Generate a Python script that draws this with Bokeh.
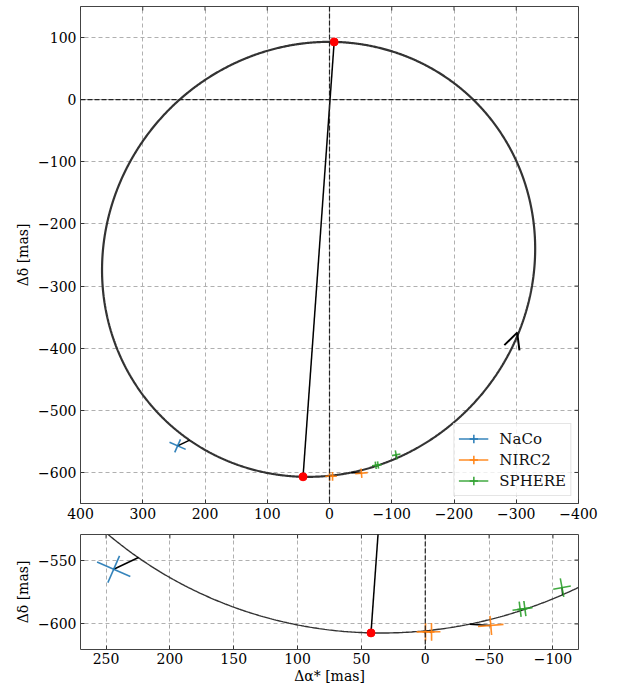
import numpy as np
from bokeh.plotting import figure
from bokeh.layouts import column
from bokeh.models import (Range1d, Span, Legend, LegendItem, Arrow, OpenHead,
                          SingleIntervalTicker, CustomJSTickFormatter, ColumnDataSource)
from bokeh.embed import file_html
from bokeh.resources import INLINE

# ---------------- data ----------------
# projected orbit: centre and two conjugate half-diameters [mas]
orbit_center_ra, orbit_center_dec = 17.5, -257.0
orbit_u_ra, orbit_u_dec = -25.0, 350.0      # towards periastron
orbit_v_ra, orbit_v_dec = 347.0, 8.0

# direction-of-motion arrow (tail, tip) [mas]
arrow_tail_ra, arrow_tail_dec = -298.6, -383.3
arrow_tip_ra, arrow_tip_dec = -301.5, -375.0

instruments = ["NaCo", "NIRC2", "SPHERE"]

naco_ra = [244.0]
naco_dec = [-557.2]
naco_err_sep = [11.4]
naco_err_pa = [14.2]
naco_model_ra = [224.6]
naco_model_dec = [-548.0]

nirc2_ra = [-0.2, -4.9, -51.3]
nirc2_dec = [-606.2, -606.2, -601.2]
nirc2_err_sep = [7.0, 7.0, 7.5]
nirc2_err_pa = [7.0, 7.0, 10.0]
nirc2_model_ra = [0.8, -3.5, -34.8]
nirc2_model_dec = [-607.0, -606.8, -600.2]

sphere_ra = [-74.3, -78.0, -107.1]
sphere_dec = [-588.5, -588.0, -571.6]
sphere_err_sep = [6.0, 6.0, 7.4]
sphere_err_pa = [6.0, 6.0, 7.0]
sphere_model_ra = [-75.5, -77.5, -107.6]
sphere_model_dec = [-589.5, -588.8, -577.5]

# axis ticks
top_xticks = [400, 300, 200, 100, 0, -100, -200, -300, -400]
top_yticks = [100, 0, -100, -200, -300, -400, -500, -600]
bot_xticks = [250, 200, 150, 100, 50, 0, -50, -100]
bot_yticks = [-550, -600]

colors = ["#1f77b4", "#ff7f0e", "#2ca02c"]

FONT = "DejaVu Serif"

# ---------------- derived geometry ----------------
E = np.linspace(0, 2 * np.pi, 1441)
orbit_x = orbit_center_ra + orbit_u_ra * np.cos(E) + orbit_v_ra * np.sin(E)
orbit_y = orbit_center_dec + orbit_u_dec * np.cos(E) + orbit_v_dec * np.sin(E)
apsis_x = [orbit_center_ra + orbit_u_ra, orbit_center_ra - orbit_u_ra]
apsis_y = [orbit_center_dec + orbit_u_dec, orbit_center_dec - orbit_u_dec]


def cross(ra, dec, esep, epa):
    ra = np.asarray(ra, float); dec = np.asarray(dec, float)
    esep = np.asarray(esep, float); epa = np.asarray(epa, float)
    r = np.hypot(ra, dec)
    ur, ud = ra / r, dec / r
    tr, td = -ud, ur
    rad = dict(x0=ra - esep * ur, y0=dec - esep * ud, x1=ra + esep * ur, y1=dec + esep * ud)
    tan = dict(x0=ra - epa * tr, y0=dec - epa * td, x1=ra + epa * tr, y1=dec + epa * td)
    return rad, tan


datasets = [
    (naco_ra, naco_dec, naco_err_sep, naco_err_pa, naco_model_ra, naco_model_dec),
    (nirc2_ra, nirc2_dec, nirc2_err_sep, nirc2_err_pa, nirc2_model_ra, nirc2_model_dec),
    (sphere_ra, sphere_dec, sphere_err_sep, sphere_err_pa, sphere_model_ra, sphere_model_dec),
]

fmt = CustomJSTickFormatter(code="return (tick < 0 ? '\\u2212' : '') + Math.abs(tick).toFixed(0);")


def style_axis(ax):
    ax.major_tick_in = 4
    ax.major_tick_out = 0
    ax.minor_tick_in = 0
    ax.minor_tick_out = 0
    ax.axis_line_color = None
    ax.major_tick_line_color = "#333333"
    ax.major_tick_line_width = 1
    ax.major_label_text_font = FONT
    ax.major_label_text_font_size = "14px"
    ax.major_label_text_color = "black"
    ax.major_label_standoff = 4
    ax.formatter = fmt
    ax.axis_label_text_font = FONT
    ax.axis_label_text_font_size = "14px"
    ax.axis_label_text_font_style = "normal"
    ax.axis_label_text_color = "black"
    ax.axis_label_standoff = 4


def make_fig(xr, yr, fh, xt, yt, mbt, mbb):
    p = figure(x_range=Range1d(*xr), y_range=Range1d(*yr), frame_width=498, frame_height=fh,
               output_backend="svg", toolbar_location=None,
               min_border_left=80, min_border_right=30, min_border_top=mbt, min_border_bottom=mbb)
    xa, ya = p.xaxis[0], p.yaxis[0]
    xa.ticker = xt
    ya.ticker = yt
    p.xgrid[0].ticker = xt
    p.ygrid[0].ticker = yt
    style_axis(xa); style_axis(ya)
    for g in (p.xgrid[0], p.ygrid[0]):
        g.grid_line_color = "#b0b0b0"
        g.grid_line_dash = "4 3"
        g.grid_line_width = 1
    p.outline_line_color = "#444444"
    p.outline_line_width = 1
    p.outline_line_alpha = 1
    # inward tick marks on the top and right frame edges (clipped half-dashes)
    p.scatter(x=xt, y=[yr[1]] * len(xt), marker="dash", angle=np.pi / 2, size=8,
              line_color="#333333", line_width=1)
    p.scatter(x=[xr[1]] * len(yt), y=yt, marker="dash", size=8,
              line_color="#333333", line_width=1)
    return p, xa, ya


def draw(p, orbit_w, show_zero_y):
    p.add_layout(Span(location=0, dimension="height", line_color="#222222", line_dash="5 2", line_width=1.2))
    if show_zero_y:
        p.add_layout(Span(location=0, dimension="width", line_color="#222222", line_dash="5 2", line_width=1.2))
    p.line(orbit_x, orbit_y, line_color="#333333", line_width=orbit_w)
    p.line(apsis_x, apsis_y, line_color="black", line_width=1.5)
    tans = []
    for (ra, dec, es, ep, mra, mdec), c in zip(datasets, colors):
        rad, tan = cross(ra, dec, es, ep)
        p.segment(x0=ra, y0=dec, x1=mra, y1=mdec, line_color="black", line_width=1.5)
        p.segment(source=ColumnDataSource(rad), x0="x0", y0="y0", x1="x1", y1="y1",
                  line_color=c, line_width=1.6, line_alpha=0.9)
        tr = p.segment(source=ColumnDataSource(tan), x0="x0", y0="y0", x1="x1", y1="y1",
                       line_color=c, line_width=1.6, line_alpha=0.9)
        tans.append(tr)
    p.scatter(apsis_x, apsis_y, size=8, color="red", line_color="red")
    return tans


# ---------------- top panel ----------------
p1, p1x, p1y = make_fig((400, -400), (-650, 150), 497, top_xticks, top_yticks, 6, 31)
p1y.axis_label = "\u0394\u03b4 [mas]"
tans = draw(p1, 2.2, True)
p1.add_layout(Arrow(end=OpenHead(size=16, line_width=2, line_color="black"),
                    x_start=arrow_tail_ra, y_start=arrow_tail_dec,
                    x_end=arrow_tip_ra, y_end=arrow_tip_dec, line_alpha=0))

items = []
for name, c, tr in zip(instruments, colors, tans):
    # legend-only cross marker (a single NaN point, not drawn in the plot)
    cr = p1.scatter(x=[np.nan], y=[np.nan], marker="cross", line_color=c, line_width=1.6, line_alpha=0.9)
    items.append(LegendItem(label=name, renderers=[tr, cr]))
legend = Legend(items=items, location="bottom_right", margin=7, padding=4, spacing=0,
                glyph_width=30, glyph_height=21, label_standoff=11,
                label_text_font=FONT, label_text_font_size="15px", label_text_color="#111111",
                label_height=21,
                border_line_color="#cccccc", border_line_width=1,
                background_fill_alpha=0.8)
p1.add_layout(legend)

# ---------------- bottom panel ----------------
p2, p2x, p2y = make_fig((270, -120), (-620, -530), 115, bot_xticks, bot_yticks, 0, 0)
p2y.axis_label = "\u0394\u03b4 [mas]"
p2x.axis_label = "\u0394\u03b1* [mas]"
p2x.major_label_standoff = 3
p2x.axis_label_standoff = 1
draw(p2, 1.4, False)

layout = column(p1, p2, spacing=0)
open("out.html", "w").write(file_html(layout, INLINE))
